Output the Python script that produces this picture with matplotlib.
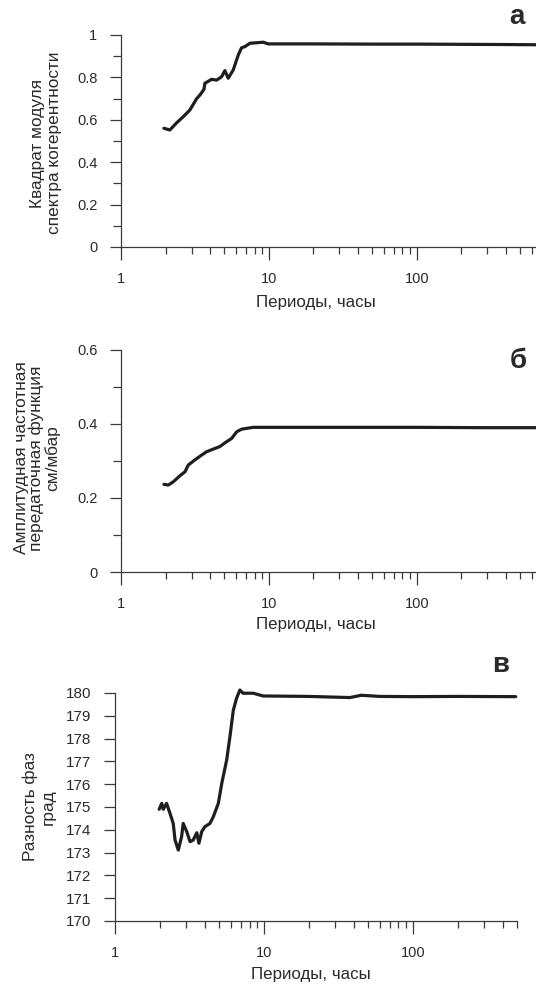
import matplotlib
matplotlib.use("Agg")
import matplotlib.pyplot as plt
from matplotlib.ticker import LogLocator, FixedLocator, MultipleLocator, NullFormatter

plt.rcParams['font.family'] = ['Liberation Sans', 'DejaVu Sans']

# данные, снятые с рисунка
# а) квадрат модуля спектра когерентности
per_a = [1.95, 2.14, 2.38, 2.64, 2.92, 3.25, 3.42, 3.64, 3.69, 4.10, 4.43, 4.79, 5.04, 5.31,
         5.74, 6.21, 6.54, 6.88, 7.44, 9.15, 9.9, 20, 50, 100, 200, 400, 640]
coh_a = [0.56, 0.552, 0.586, 0.615, 0.646, 0.70, 0.717, 0.744, 0.772, 0.791, 0.787, 0.803, 0.832, 0.796,
         0.835, 0.906, 0.94, 0.945, 0.961, 0.966, 0.958, 0.958, 0.957, 0.957, 0.956, 0.955, 0.954]

# б) амплитудная частотная передаточная функция, см/мбар
per_b = [1.95, 2.09, 2.26, 2.50, 2.71, 2.85, 3.16, 3.51, 3.79, 4.32, 4.66, 5.04, 5.6, 6.06,
         6.54, 7.84, 9.66, 20, 50, 100, 300, 640]
amp_b = [0.237, 0.235, 0.244, 0.260, 0.271, 0.289, 0.303, 0.316, 0.325, 0.334, 0.339, 0.349, 0.361, 0.379,
         0.386, 0.391, 0.391, 0.391, 0.391, 0.391, 0.390, 0.390]

# в) разность фаз, град
per_c = [1.98, 2.06, 2.11, 2.22, 2.34, 2.46, 2.53, 2.66, 2.80, 2.87, 3.03, 3.19, 3.35, 3.54, 3.66,
         3.82, 4.02, 4.34, 4.57, 4.94, 5.21, 5.62, 5.91, 6.23, 6.55, 6.89, 7.25, 8.46, 9.9,
         20, 37.8, 45, 60, 100, 200, 490]
ph_c = [174.9, 175.16, 174.9, 175.16, 174.72, 174.28, 173.55, 173.11, 173.7, 174.28, 173.92, 173.48,
        173.55, 173.87, 173.41, 173.92, 174.14, 174.28, 174.57, 175.16, 176.04, 177.06, 178.08, 179.25,
        179.77, 180.13, 179.99, 179.99, 179.87, 179.85, 179.80, 179.90, 179.85, 179.84, 179.85, 179.84]

W, H = 536, 986
fig = plt.figure(figsize=(W / 100, H / 100), dpi=100)
fig.patch.set_facecolor('white')

axcol = '#3a3a3a'
txtcol = '#2a2a2a'
linecol = '#1e1e1e'


def make_ax(l, r, t, b):
    return fig.add_axes([l / W, 1 - b / H, (r - l) / W, (b - t) / H])


def put(x, y, s, **kw):
    # текст в пиксельных координатах от верхнего левого угла
    fig.text(x / W, 1 - y / H, s, ha='center', va='center', color=txtcol, **kw)


def style(ax, xmax, ysize=10.5):
    ax.set_xscale('log')
    ax.set_xlim(1, xmax)
    for s in ['top', 'right']:
        ax.spines[s].set_visible(False)
    for s in ['left', 'bottom']:
        ax.spines[s].set_color(axcol)
        ax.spines[s].set_linewidth(0.9)
    ax.xaxis.set_major_locator(FixedLocator([1, 10, 100]))
    ax.set_xticklabels(['1', '10', '100'])
    ax.xaxis.set_minor_locator(LogLocator(base=10, subs=range(2, 10), numticks=20))
    ax.xaxis.set_minor_formatter(NullFormatter())
    ax.tick_params(axis='x', which='major', length=9, width=0.9, color=axcol, pad=9,
                   labelsize=10.5, labelcolor=txtcol)
    ax.tick_params(axis='x', which='minor', length=5, width=0.9, color=axcol)
    ax.tick_params(axis='y', which='major', length=8, width=0.9, color=axcol, pad=9,
                   labelsize=ysize, labelcolor=txtcol)
    ax.tick_params(axis='y', which='minor', length=6, width=0.9, color=axcol)


# панель а
ax1 = make_ax(121, 536, 35, 247)
ax1.plot(per_a, coh_a, color=linecol, lw=2.3, solid_capstyle='round', clip_on=False)
style(ax1, 640)
ax1.set_ylim(0, 1)
ax1.set_yticks([0, 0.2, 0.4, 0.6, 0.8, 1])
ax1.set_yticklabels(['0', '0.2', '0.4', '0.6', '0.8', '1'])
ax1.yaxis.set_minor_locator(MultipleLocator(0.1))
put(46, 143, 'Квадрат модуля\nспектра когерентности', fontsize=12.4, rotation=90,
    linespacing=1.15, multialignment='center')
put(316, 302, 'Периоды, часы', fontsize=12.2)
put(517, 17, 'а', fontsize=20, fontweight='bold')

# панель б
ax2 = make_ax(121, 536, 350, 572)
ax2.plot(per_b, amp_b, color=linecol, lw=2.3, solid_capstyle='round', clip_on=False)
style(ax2, 640)
ax2.set_ylim(0, 0.6)
ax2.set_yticks([0, 0.2, 0.4, 0.6])
ax2.set_yticklabels(['0', '0.2', '0.4', '0.6'])
ax2.yaxis.set_minor_locator(MultipleLocator(0.1))
put(37, 458, 'Амплитудная частотная\nпередаточная функция\nсм/мбар', fontsize=12.4, rotation=90,
    linespacing=1.0, multialignment='center')
put(316, 625, 'Периоды, часы', fontsize=12.2)
put(518, 361, 'б', fontsize=20, fontweight='bold')

# панель в
ax3 = make_ax(115, 517, 693, 921)
ax3.plot(per_c, ph_c, color=linecol, lw=2.3, solid_capstyle='round', clip_on=False)
style(ax3, 500, ysize=11)
ax3.set_ylim(170, 180)
ax3.set_yticks(range(170, 181))
put(39, 807, 'Разность фаз\nград', fontsize=12.4, rotation=90,
    linespacing=1.2, multialignment='center')
put(311, 975, 'Периоды, часы', fontsize=12.2)
put(501, 665, 'в', fontsize=20, fontweight='bold')

fig.savefig('out.png', dpi=100)
